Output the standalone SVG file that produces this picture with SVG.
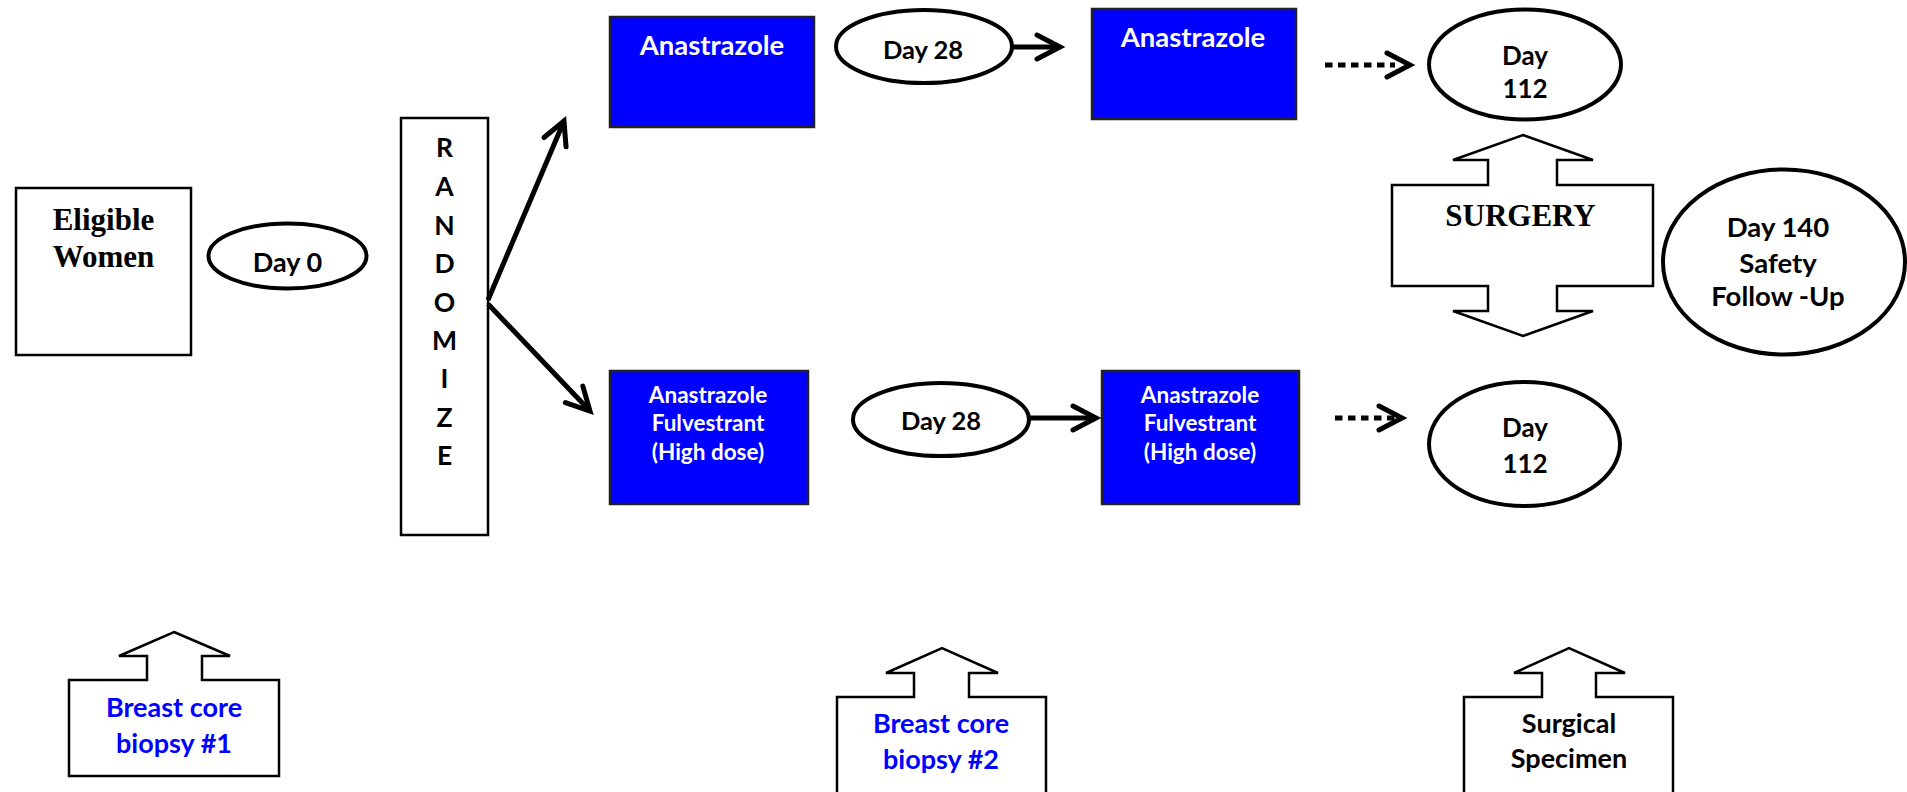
<svg xmlns="http://www.w3.org/2000/svg" width="1907" height="792" viewBox="0 0 1907 792">
<defs>
<style>
.box{fill:#fff;stroke:#000;stroke-width:2.5}
.blue{fill:#0000ff;stroke:#222;stroke-width:2.5}
.ell{fill:#fff;stroke:#000;stroke-width:4}
.blk{fill:none;stroke:#000;stroke-width:2.5;stroke-linejoin:miter}
.sans{font-family:Lato,"Liberation Sans",sans-serif;font-weight:bold;text-anchor:middle}
.serif{font-family:"Liberation Serif","Times New Roman",serif;font-weight:bold;text-anchor:middle}
.wt{fill:#fff}
.bt{fill:#000}
.bl{fill:#0000ff}
.conn{fill:none;stroke:#000;stroke-width:5}
.dot{stroke-dasharray:7.5 5.5}
</style>
<marker id="chev" markerUnits="userSpaceOnUse" viewBox="-30 -18 36 36" refX="0" refY="0" markerWidth="36" markerHeight="36" orient="auto">
<path d="M-23,-12 L0,0 L-23,12" fill="none" stroke="#000" stroke-width="5" stroke-linecap="round" stroke-linejoin="miter"/>
</marker>
</defs>
<rect width="1907" height="792" fill="#fff"/>

<g id="eligible">
<rect class="box" x="16" y="188" width="175" height="167"/>
<text class="serif bt" x="103.5" y="230" font-size="31">Eligible</text>
<text class="serif bt" x="103.5" y="267" font-size="31">Women</text>
</g>

<g id="day0">
<ellipse class="ell" cx="287.5" cy="256" rx="79" ry="32.5"/>
<text class="sans bt" x="287.5" y="272" font-size="27">Day 0</text>
</g>

<g id="randomize">
<rect class="box" x="401" y="118" width="87" height="417"/>
<g class="sans bt" font-size="26.5">
<text x="444.5" y="157">R</text>
<text x="444.5" y="196">A</text>
<text x="444.5" y="235">N</text>
<text x="444.5" y="273">D</text>
<text x="444.5" y="312">O</text>
<text x="444.5" y="350">M</text>
<text x="444.5" y="388">I</text>
<text x="444.5" y="427">Z</text>
<text x="444.5" y="465">E</text>
</g>
</g>

<g id="anastrazole1">
<rect class="blue" x="610" y="17" width="204" height="110"/>
<text class="sans wt" x="712" y="55" font-size="27.5">Anastrazole</text>
</g>

<g id="day28top">
<ellipse class="ell" cx="924" cy="46.5" rx="88" ry="36.5"/>
<text class="sans bt" x="923" y="59" font-size="25.5">Day 28</text>
</g>

<g id="anastrazole2">
<rect class="blue" x="1092" y="9" width="204" height="110"/>
<text class="sans wt" x="1193" y="47" font-size="27.5">Anastrazole</text>
</g>

<g id="day112top">
<ellipse class="ell" cx="1525" cy="64.5" rx="96" ry="55"/>
<text class="sans bt" x="1525" y="65" font-size="26">Day</text>
<text class="sans bt" x="1525" y="98" font-size="26">112</text>
</g>

<g id="combo1">
<rect class="blue" x="610" y="371" width="198" height="133"/>
<text class="sans wt" x="708" y="403" font-size="22.5">Anastrazole</text>
<text class="sans wt" x="708" y="431" font-size="22.5">Fulvestrant</text>
<text class="sans wt" x="708" y="460" font-size="22.5">(High dose)</text>
</g>

<g id="day28bottom">
<ellipse class="ell" cx="941" cy="419.5" rx="88" ry="36.5"/>
<text class="sans bt" x="941" y="430" font-size="25.5">Day 28</text>
</g>

<g id="combo2">
<rect class="blue" x="1102" y="371" width="197" height="133"/>
<text class="sans wt" x="1200" y="403" font-size="22.5">Anastrazole</text>
<text class="sans wt" x="1200" y="431" font-size="22.5">Fulvestrant</text>
<text class="sans wt" x="1200" y="460" font-size="22.5">(High dose)</text>
</g>

<g id="day112bottom">
<ellipse class="ell" cx="1524.5" cy="444" rx="95.5" ry="62"/>
<text class="sans bt" x="1525" y="437" font-size="26">Day</text>
<text class="sans bt" x="1525" y="473" font-size="26">112</text>
</g>

<g id="surgery">
<path class="blk" fill="#fff" d="M1523,135 L1593,160 L1557,160 L1557,185 L1653,185 L1653,286 L1557,286 L1557,311 L1593,311 L1523,336 L1453,311 L1488,311 L1488,286 L1392,286 L1392,185 L1488,185 L1488,160 L1453,160 Z"/>
<text class="serif bt" x="1520.5" y="226" font-size="31">SURGERY</text>
</g>

<g id="day140">
<ellipse class="ell" cx="1784" cy="262" rx="121" ry="92.5"/>
<text class="sans bt" x="1778" y="237" font-size="27.5">Day 140</text>
<text class="sans bt" x="1778" y="273" font-size="27.5">Safety</text>
<text class="sans bt" x="1778" y="306" font-size="27.5">Follow -Up</text>
</g>

<g id="biopsy1">
<path class="blk" fill="#fff" d="M174,632 L230,656 L202,656 L202,680 L279,680 L279,776 L69,776 L69,680 L147,680 L147,656 L119,656 Z"/>
<text class="sans bl" x="174" y="717" font-size="27">Breast core</text>
<text class="sans bl" x="174" y="753" font-size="27">biopsy #1</text>
</g>

<g id="biopsy2">
<path class="blk" fill="#fff" d="M837,800 L837,697 L914,697 L914,673 L886,673 L942,648 L998,673 L969,673 L969,697 L1046,697 L1046,800"/>
<text class="sans bl" x="941" y="733" font-size="27">Breast core</text>
<text class="sans bl" x="941" y="769" font-size="27">biopsy #2</text>
</g>

<g id="specimen">
<path class="blk" fill="#fff" d="M1464,800 L1464,697 L1542,697 L1542,673 L1514,673 L1569,648 L1625,673 L1596,673 L1596,697 L1673,697 L1673,800"/>
<text class="sans bt" x="1569" y="733" font-size="27">Surgical</text>
<text class="sans bt" x="1569" y="768" font-size="27">Specimen</text>
</g>

<g id="connectors">
<line class="conn" x1="488" y1="300" x2="564" y2="121" marker-end="url(#chev)"/>
<line class="conn" x1="488" y1="304" x2="590" y2="411" marker-end="url(#chev)"/>
<line class="conn" x1="1012" y1="47" x2="1060" y2="47" marker-end="url(#chev)"/>
<line class="conn" x1="1029" y1="418" x2="1096" y2="418" marker-end="url(#chev)"/>
<line class="conn dot" x1="1325" y1="65" x2="1395" y2="65"/>
<line class="conn" x1="1408" y1="65" x2="1410" y2="65" stroke-opacity="0" marker-end="url(#chev)"/>
<line class="conn dot" x1="1335" y1="418" x2="1395" y2="418"/>
<line class="conn" x1="1400" y1="418" x2="1402" y2="418" stroke-opacity="0" marker-end="url(#chev)"/>
</g>
</svg>
